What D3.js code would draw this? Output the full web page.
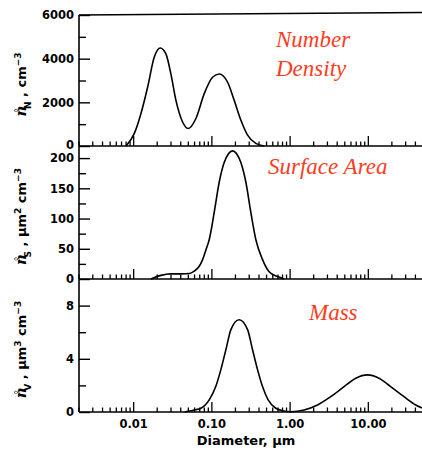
<!DOCTYPE html>
<html><head><meta charset="utf-8">
<script src="https://cdn.jsdelivr.net/npm/d3@7"></script>
<style>
html,body{margin:0;padding:0;background:#fff;}
svg{display:block;}
.tk{font-family:"DejaVu Sans",sans-serif;font-weight:bold;font-size:11.5px;fill:#000;}
.ttl{font-family:"Liberation Serif","Times New Roman",serif;font-style:italic;font-size:23px;fill:#ff3c1e;}
</style></head>
<body>
<svg id="c" width="422" height="453"></svg>
<script>
// ---------- data ----------
const xDomain = [0.002, 50];
const xMajor = [0.01, 0.1, 1, 10];
const xTickLabels = ["0.01", "0.10", "1.00", "10.00"];

const numberDiam = [0.008, 0.0102, 0.0124, 0.0151, 0.0183, 0.0219, 0.0259, 0.0299, 0.0347, 0.0422, 0.0498, 0.0625, 0.0798, 0.102, 0.124, 0.159, 0.193, 0.235, 0.286, 0.364, 0.466];
const numberVal  = [0, 577, 1490, 2700, 4060, 4490, 4210, 3300, 2090, 1100, 800, 1260, 2400, 3150, 3300, 2920, 2090, 1180, 500, 120, 0];

const surfaceDiam = [0.0166, 0.0223, 0.0299, 0.0402, 0.0513, 0.0594, 0.0689, 0.0761, 0.0838, 0.0924, 0.107, 0.124, 0.144, 0.184, 0.234, 0.272, 0.315, 0.365, 0.444, 0.539, 0.690, 0.838];
const surfaceVal  = [0, 6, 8.5, 8.5, 9, 13, 21, 32, 48, 65, 110, 160, 193, 212, 193, 160, 110, 65, 32, 12, 4, 0];

const massDiam = [0.045, 0.054, 0.0594, 0.0724, 0.0924, 0.112, 0.130, 0.151, 0.175, 0.223, 0.286, 0.331, 0.384, 0.444, 0.524, 0.656, 0.838, 1.02, 1.51, 2.24, 3.31, 4.90, 6.91, 9.75, 13.7, 19.3, 28.6, 40.4, 49.1];
const massVal  = [0, 0.1, 0.15, 0.28, 0.91, 1.91, 3.17, 4.68, 6.19, 6.94, 6.19, 4.68, 3.17, 1.91, 0.91, 0.28, 0.08, 0.02, 0.15, 0.53, 1.15, 1.91, 2.54, 2.79, 2.54, 1.91, 1.15, 0.53, 0.3];

const numberTicks = [0, 2000, 4000, 6000], numberMinor = [1000, 3000, 5000];
const surfaceTicks = [0, 50, 100, 150, 200], surfaceMinor = [25, 75, 125, 175];
const massTicks = [0, 4, 8], massMinor = [2, 6];

const titles = [["Number", "Density"], ["Surface Area"], ["Mass"]];
const yLabels = [
  {sub: "N", unit: [[" ,  cm", false], ["−3", true]]},
  {sub: "S", unit: [[" ,  µm", false], ["2", true], [" cm", false], ["−3", true]]},
  {sub: "V", unit: [[" ,  µm", false], ["3", true], [" cm", false], ["−3", true]]}
];

// ---------- layout ----------
const svg = d3.select("#c");
const X0 = 79, X1 = 423;
const x = d3.scaleLog().domain(xDomain).range([X0, X1]);

const panels = [
  {diam: numberDiam, val: numberVal, max: 6000, top: 15, bot: 146, ticks: numberTicks, minor: numberMinor,
   title: titles[0], tx: 276, ty: [47, 76], lab: yLabels[0]},
  {diam: surfaceDiam, val: surfaceVal, max: 220, top: 146, bot: 279, ticks: surfaceTicks, minor: surfaceMinor,
   title: titles[1], tx: 268, ty: [174], lab: yLabels[1]},
  {diam: massDiam, val: massVal, max: 10, top: 279, bot: 412, ticks: massTicks, minor: massMinor,
   title: titles[2], tx: 309, ty: [320], lab: yLabels[2]}
];

// minor x ticks (2..9 of every decade)
const xAll = [];
for (let e = -3; e <= 1; e++) for (let m = 1; m <= 9; m++) {
  const v = m * Math.pow(10, e);
  if (v >= xDomain[0] * 0.999 && v <= xDomain[1] * 1.001) xAll.push(v);
}
const isMajor = v => xMajor.some(m => Math.abs(v / m - 1) < 1e-6);

// top frame line of first panel
svg.append("line").attr("x1", X0).attr("y1", 15).attr("x2", 422).attr("y2", 12.5)
  .attr("stroke", "#000").attr("stroke-width", 1.6);

panels.forEach((p, i) => {
  const y = d3.scaleLinear().domain([0, p.max]).range([p.bot, p.top]);
  const g = svg.append("g");

  g.append("line").attr("x1", X0).attr("x2", X0).attr("y1", p.top).attr("y2", p.bot)
    .attr("stroke", "#000").attr("stroke-width", 1.6);
  g.append("line").attr("x1", X0).attr("x2", X1).attr("y1", p.bot).attr("y2", p.bot)
    .attr("stroke", "#000").attr("stroke-width", 1.6);

  const yAxis = d3.axisRight(y).tickValues(p.ticks).tickSize(11).tickFormat("");
  const ya = g.append("g").attr("transform", `translate(${X0},0)`).call(yAxis);
  ya.select(".domain").remove();
  ya.selectAll("line").attr("stroke-width", 1.4);
  const yAxisM = d3.axisRight(y).tickValues(p.minor).tickSize(7).tickFormat("");
  const ym = g.append("g").attr("transform", `translate(${X0},0)`).call(yAxisM);
  ym.select(".domain").remove();
  ym.selectAll("line").attr("stroke-width", 1.4);

  g.selectAll(".yl").data(p.ticks).enter().append("text").attr("class", "tk")
    .attr("x", 74).attr("y", d => y(d)).attr("dy", d => (i === 0 && d === 0) ? "0.25em" : "0.38em")
    .attr("text-anchor", "end")
    .style("font-size", (i === 0) ? "11.5px" : "11.5px")
    .text(d => d);

  g.selectAll(".xt").data(xAll).enter().append("line")
    .attr("x1", d => x(d)).attr("x2", d => x(d))
    .attr("y1", p.bot).attr("y2", d => p.bot - (isMajor(d) ? 10 : 4.5))
    .attr("stroke", "#000").attr("stroke-width", 1.3);

  const pts = p.diam.map((d, k) => [d, p.val[k]]);
  g.append("path").datum(pts)
    .attr("d", d3.line().x(d => x(d[0])).y(d => y(d[1])).curve(d3.curveMonotoneX))
    .attr("fill", "none").attr("stroke", "#000").attr("stroke-width", 1.6);

  p.title.forEach((t, k) => {
    svg.append("text").attr("class", "ttl").attr("x", p.tx).attr("y", p.ty[k]).text(t);
  });

  // y label (rotated)
  const cy = (p.top + p.bot) / 2 + 4;
  const lt = svg.append("text")
    .attr("transform", `translate(26,${cy}) rotate(-90)`)
    .attr("text-anchor", "middle")
    .style("font-family", '"DejaVu Sans",sans-serif').style("font-weight", "bold").style("font-size", "13px");
  lt.append("tspan").style("font-style", "italic").style("font-family", '"DejaVu Serif",serif')
    .style("font-size", "15px").text("n");
  lt.append("tspan").attr("dx", -7.5).attr("dy", -4.5).style("font-size", "10px").style("font-weight", "normal").text("°");
  lt.append("tspan").attr("dx", -1).attr("dy", 9).style("font-size", "9px").text(p.lab.sub);
  let raised = 4.5;
  p.lab.unit.forEach(([s, sup]) => {
    const target = sup ? -5 : 0;
    lt.append("tspan").attr("dy", target - raised).style("font-size", sup ? "9px" : "13px").text(s);
    raised = target;
  });
});

svg.selectAll(".xl").data(xMajor).enter().append("text").attr("class", "tk")
  .attr("x", d => x(d)).attr("y", 428).attr("text-anchor", "middle")
  .text((d, i) => xTickLabels[i]);

svg.append("text").attr("x", 246).attr("y", 445).attr("text-anchor", "middle")
  .style("font-family", '"DejaVu Sans",sans-serif').style("font-weight", "bold").style("font-size", "13px")
  .text("Diameter,  µm");
</script>
</body></html>
